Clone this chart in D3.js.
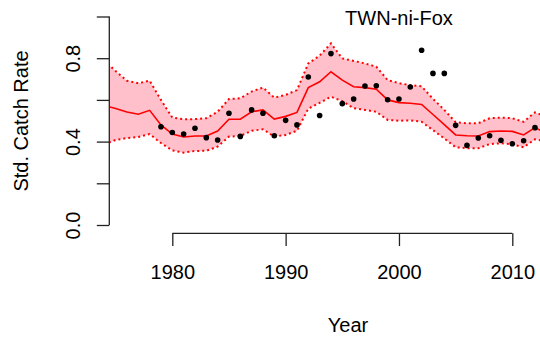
<!DOCTYPE html>
<html>
<head>
<meta charset="utf-8">
<script src="https://cdn.jsdelivr.net/npm/d3@7"></script>
<style>
  html, body { margin: 0; padding: 0; background: #fff; }
  svg text { font-family: "Liberation Sans", Arial, Helvetica, sans-serif; }
</style>
</head>
<body>
<svg id="chart" width="540" height="344"></svg>
<script>
const years = d3.range(1974, 2014);
const meanValues = [0.573,0.559,0.542,0.531,0.550,0.480,0.436,0.422,0.427,0.427,
  0.451,0.507,0.507,0.543,0.552,0.508,0.521,0.540,0.659,0.687,
  0.735,0.695,0.663,0.659,0.651,0.600,0.587,0.584,0.578,0.530,
  0.481,0.432,0.428,0.427,0.448,0.451,0.449,0.432,0.467,0.440];
const upperValues = [0.790,0.738,0.692,0.680,0.692,0.600,0.515,0.507,0.508,0.512,
  0.543,0.604,0.608,0.640,0.659,0.611,0.624,0.647,0.775,0.812,
  0.871,0.799,0.787,0.775,0.759,0.695,0.680,0.671,0.665,0.605,
  0.552,0.493,0.488,0.488,0.512,0.515,0.512,0.495,0.540,0.520];
const lowerValues = [0.386,0.408,0.417,0.422,0.436,0.393,0.358,0.347,0.355,0.356,
  0.376,0.424,0.427,0.452,0.459,0.424,0.432,0.452,0.558,0.586,
  0.615,0.594,0.560,0.552,0.543,0.504,0.500,0.502,0.495,0.455,
  0.415,0.373,0.368,0.368,0.388,0.392,0.387,0.373,0.411,0.400];
const obsYears = d3.range(1979, 2013);
const obsValues = [0.471,0.444,0.436,0.464,0.419,0.408,0.536,0.425,0.552,0.536,
  0.428,0.502,0.480,0.710,0.525,0.822,0.582,0.604,0.667,0.668,
  0.601,0.604,0.662,0.838,0.727,0.727,0.478,0.382,0.417,0.428,
  0.406,0.390,0.404,0.467];
const xTicks = [1980, 1990, 2000, 2010];
const yTicks = [0, 0.2, 0.4, 0.6, 0.8, 1.0];
const yTickLabels = {0: "0.0", 0.4: "0.4", 0.8: "0.8"};
const title = "TWN-ni-Fox";
const xLabel = "Year";
const yLabel = "Std. Catch Rate";

const svg = d3.select("#chart");
const x = d3.scaleLinear().domain([1980, 2010]).range([172.3, 512.3]);
const y = d3.scaleLinear().domain([0, 1]).range([225, 16.5]);
const plotLeft = x.invert(109.3);
const plotBottom = y(-0.04);

svg.append("defs").append("clipPath").attr("id", "clip")
  .append("rect").attr("x", 109.3).attr("y", 0).attr("width", 540 - 109.3).attr("height", plotBottom);

const band = years.map((yr, i) => ({yr, m: meanValues[i], u: upperValues[i], l: lowerValues[i]}));
const g = svg.append("g").attr("clip-path", "url(#clip)");

g.append("path").datum(band)
  .attr("d", d3.area().x(d => x(d.yr)).y0(d => y(d.l)).y1(d => y(d.u)))
  .attr("fill", "#FFC0CB").attr("stroke", "none");

["u", "l"].forEach(k => {
  g.append("path").datum(band)
    .attr("d", d3.line().x(d => x(d.yr)).y(d => y(d[k])))
    .attr("fill", "none").attr("stroke", "#FF0000")
    .attr("stroke-width", 2).attr("stroke-dasharray", "2,3");
});

g.append("path").datum(band)
  .attr("d", d3.line().x(d => x(d.yr)).y(d => y(d.m)))
  .attr("fill", "none").attr("stroke", "#FF0000").attr("stroke-width", 1.6);

g.selectAll("circle.obs").data(obsYears.map((yr, i) => ({yr, v: obsValues[i]})))
  .enter().append("circle")
  .attr("cx", d => x(d.yr)).attr("cy", d => y(d.v)).attr("r", 2.8).attr("fill", "#000");

// Y axis
const yAxis = svg.append("g").attr("transform", "translate(109.3,0)")
  .call(d3.axisLeft(y).tickValues(yTicks).tickSize(12.5).tickFormat(d => yTickLabels[d] || ""));
yAxis.select(".domain").remove();
yAxis.append("line").attr("x1", 0).attr("x2", 0).attr("y1", y(0)).attr("y2", y(1))
  .attr("stroke", "#222").attr("stroke-width", 1.3);
yAxis.selectAll(".tick line").attr("stroke", "#222").attr("stroke-width", 1.3);
yAxis.selectAll(".tick text")
  .attr("transform", null).attr("x", null).attr("dy", null)
  .attr("text-anchor", "middle")
  .attr("transform", "translate(-29.5,0) rotate(-90)")
  .attr("fill", "#000").style("font-size", "20px");

// X axis
const xAxis = svg.append("g").attr("transform", `translate(0,${plotBottom})`)
  .call(d3.axisBottom(x).tickValues(xTicks).tickSize(12.7).tickFormat(d3.format("d")));
xAxis.select(".domain").remove();
xAxis.append("line").attr("x1", x(1980)).attr("x2", x(2010)).attr("y1", 0).attr("y2", 0)
  .attr("stroke", "#222").attr("stroke-width", 1.3);
xAxis.selectAll(".tick line").attr("stroke", "#222").attr("stroke-width", 1.3);
xAxis.selectAll(".tick text").attr("y", null).attr("dy", null)
  .attr("y", 279 - plotBottom).attr("fill", "#000").style("font-size", "20px");

svg.append("text").attr("x", 348).attr("y", 331.5).attr("text-anchor", "middle")
  .style("font-size", "20px").text(xLabel);
svg.append("text").attr("transform", "translate(28,121) rotate(-90)").attr("text-anchor", "middle")
  .style("font-size", "20px").text(yLabel);
svg.append("text").attr("x", 399).attr("y", 25).attr("text-anchor", "middle")
  .style("font-size", "20px").text(title);
</script>
</body>
</html>
